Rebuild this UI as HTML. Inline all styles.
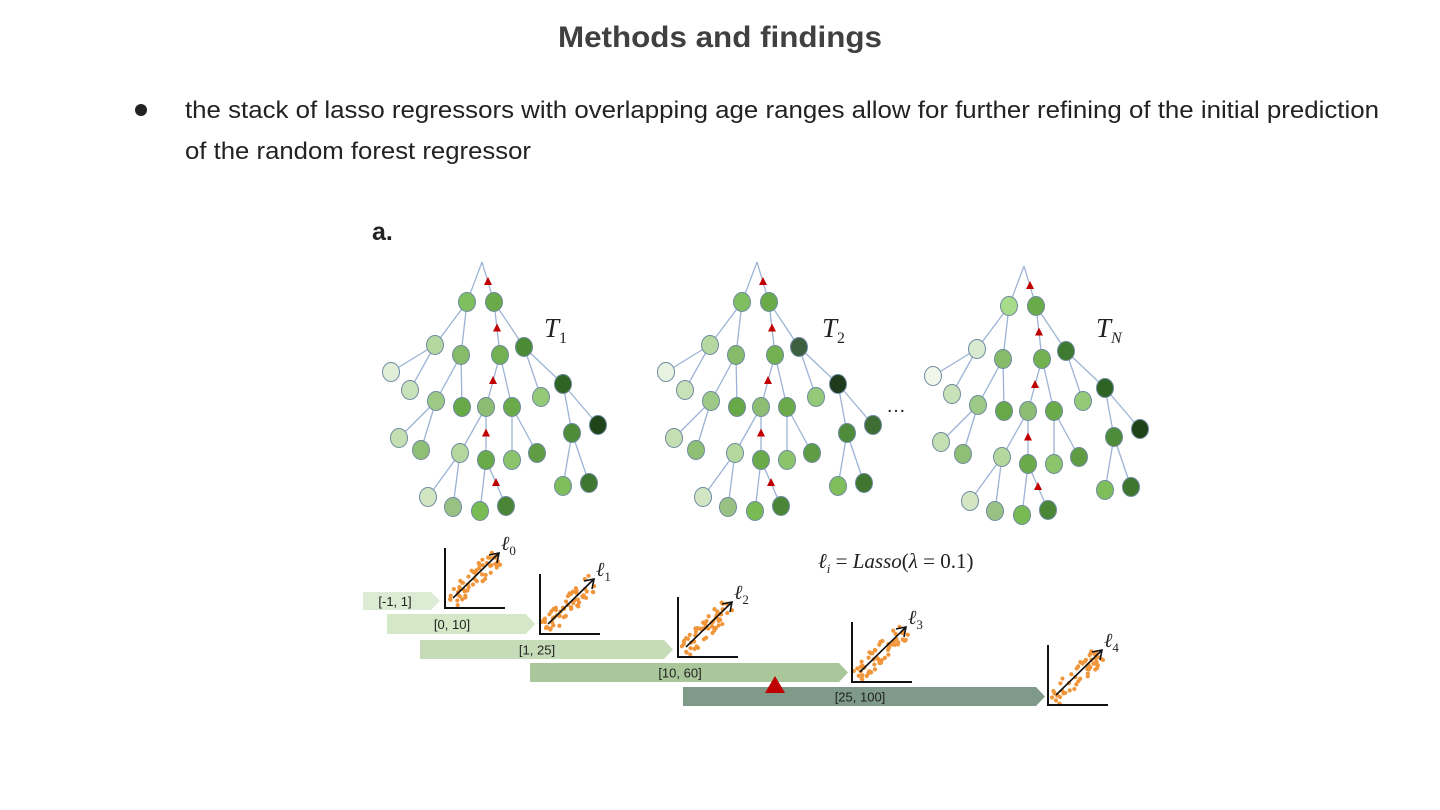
<!DOCTYPE html>
<html><head><meta charset="utf-8"><style>
html,body{margin:0;padding:0;background:#fff;width:1440px;height:810px;overflow:hidden}
svg{display:block}
.t{font-family:"Liberation Sans",sans-serif;fill:#222}
.s{font-family:"Liberation Serif",serif;font-style:italic;fill:#222}
</style></head><body>
<svg id="sv" width="1440" height="810" viewBox="0 0 1440 810" xmlns="http://www.w3.org/2000/svg">
<text class="t" x="720" y="47" text-anchor="middle" font-size="30" font-weight="bold" style="fill:#404040" textLength="324" lengthAdjust="spacingAndGlyphs">Methods and findings</text>
<circle cx="141" cy="110" r="6" fill="#222"/>
<text class="t" x="185" y="118" font-size="24" textLength="1194" lengthAdjust="spacingAndGlyphs">the stack of lasso regressors with overlapping age ranges allow for further refining of the initial prediction</text>
<text class="t" x="185" y="159" font-size="24" textLength="346" lengthAdjust="spacingAndGlyphs">of the random forest regressor</text>
<text class="t" x="372" y="240" font-size="25" font-weight="bold">a.</text>
<g id="trees"></g>
<text class="s" x="544" y="337" font-size="27">T<tspan font-size="16" dy="6" font-style="normal">1</tspan></text>
<text class="s" x="822" y="337" font-size="27">T<tspan font-size="16" dy="6" font-style="normal">2</tspan></text>
<text class="s" x="1096" y="337" font-size="27">T<tspan font-size="16" dy="6">N</tspan></text>
<text class="t" x="896" y="412" font-size="20" text-anchor="middle">…</text>
<text class="s" x="818" y="568" font-size="21">ℓ<tspan font-size="13" dy="5">i</tspan><tspan dy="-5" font-style="normal"> = </tspan>Lasso<tspan font-style="normal">(</tspan>λ<tspan font-style="normal"> = 0.1)</tspan></text>
<g id="bars"></g>
<g id="plots"></g>
<polygon points="775,676 765,693 785,693" fill="#c00000"/>
</svg>
<script>
var NS="http://www.w3.org/2000/svg";
function el(p,n,a){var e=document.createElementNS(NS,n);for(var k in a)e.setAttribute(k,a[k]);p.appendChild(e);return e;}
var T=document.getElementById('trees');
var nodes={R:[482,262],A:[467,302],B:[494,302],C:[435,345],D:[461,355],E:[391,372],F:[410,390],G:[436,401],H:[462,407],I:[399,438],J:[421,450],K:[500,355],L:[524,347],M:[486,407],N:[512,407],O:[460,453],P:[486,460],Q:[428,497],S:[453,507],U:[480,511],V:[506,506],W:[512,460],X:[537,453],Y:[541,397],Z:[563,384],AA:[572,433],AB:[598,425],AC:[563,486],AD:[589,483]};
var edges=[["R","A"],["R","B"],["A","C"],["A","D"],["C","E"],["C","F"],["D","G"],["D","H"],["G","I"],["G","J"],["B","K"],["B","L"],["K","M"],["K","N"],["M","O"],["M","P"],["O","Q"],["O","S"],["P","U"],["P","V"],["N","W"],["N","X"],["L","Y"],["L","Z"],["Z","AA"],["Z","AB"],["AA","AC"],["AA","AD"]];
var cols={A:"#7fbf5f",B:"#6aaa48",C:"#b5d7a0",D:"#86bb6a",E:"#e2efd8",F:"#c9e1b9",G:"#9cc986",H:"#67a847",I:"#c4dfb2",J:"#8fbf74",K:"#72b050",L:"#4d8a35",M:"#8dbd72",N:"#6aaa48",O:"#b3d79c",P:"#6aaa48",Q:"#d2e6c4",S:"#99c184",U:"#78bb52",V:"#4b8636",W:"#8cc46c",X:"#5f9c44",Y:"#93c977",Z:"#2f6324",AA:"#4f8c3a",AB:"#1e4418",AC:"#7fbe5b",AD:"#3f7630"};
var path=["R","B","K","M","P","V"];
function tree(dx,dy,var2){
  var g=el(T,'g',{transform:'translate('+dx+','+dy+')'});
  edges.forEach(function(e){var a=nodes[e[0]],b=nodes[e[1]];el(g,'line',{x1:a[0],y1:a[1],x2:b[0],y2:b[1],stroke:'#9db3d6','stroke-width':1.3});});
  for(var k in nodes){if(k=='R')continue;var n=nodes[k];var c=cols[k];
    if(var2&&var2[k])c=var2[k];
    el(g,'ellipse',{cx:n[0],cy:n[1],rx:8.5,ry:9.5,fill:c,stroke:'#6f8aa0','stroke-width':1});}
  for(var i=0;i<path.length-1;i++){var a=nodes[path[i]],b=nodes[path[i+1]];var mx=(a[0]+b[0])/2,my=(a[1]+b[1])/2;
    el(g,'polygon',{points:(mx)+','+(my-5)+' '+(mx-4)+','+(my+3)+' '+(mx+4)+','+(my+3),fill:'#c00000'});}
}
tree(0,0);
tree(275,0,{L:"#3c5f40",Z:"#1e3a1a",AB:"#3e6e34",E:"#e8f2e0"});
tree(542,4,{A:"#a8dc8a",C:"#d8ead0",E:"#f0f6ea",L:"#3f7a32"});
var B=document.getElementById('bars');
var bars=[[363,592,440,18,"#dcebd3","[-1, 1]",395],[387,614,535,20,"#d4e8c8","[0, 10]",452],[420,640,673,19,"#c6dcb8","[1, 25]",537],[530,663,848,19,"#a9c79a","[10, 60]",680],[683,687,1045,19,"#7f9a88","[25, 100]",860]];
bars.forEach(function(b){var x=b[0],y=b[1],x2=b[2],h=b[3];
 el(B,'polygon',{points:x+','+y+' '+(x2-9)+','+y+' '+x2+','+(y+h/2)+' '+(x2-9)+','+(y+h)+' '+x+','+(y+h),fill:b[4]});
 var t=el(B,'text',{x:b[6],y:y+h/2+5,'font-size':13,'text-anchor':'middle','class':'t'});t.textContent=b[5];});
var P=document.getElementById('plots');
var plots=[[445,608,"0"],[540,634,"1"],[678,657,"2"],[852,682,"3"],[1048,705,"4"]];
var seed=3;function rnd(){seed=(seed*9301+49297)%233280;return seed/233280;}
plots.forEach(function(p){var x=p[0],y=p[1];
 for(var i=0;i<55;i++){var t=rnd();var d=(rnd()-0.5)*20;var px=x+5+t*48+d*0.5,py=y-6-t*46+d*0.7;el(P,'circle',{cx:px,cy:py,r:2.1,fill:'#f0953a'});}
 el(P,'polyline',{points:x+','+(y-60)+' '+x+','+y+' '+(x+60)+','+y,fill:'none',stroke:'#111','stroke-width':2});
 el(P,'line',{x1:x+8,y1:y-10,x2:x+53,y2:y-54,stroke:'#111','stroke-width':1.6});
 el(P,'polyline',{points:(x+44)+','+(y-53)+' '+(x+54)+','+(y-55)+' '+(x+52)+','+(y-45),fill:'none',stroke:'#111','stroke-width':1.6});
 var t=el(P,'text',{x:x+56,y:y-58,'font-size':20,'class':'s'});t.textContent='ℓ';
 var s=el(P,'tspan',{'font-size':13,dy:5,'font-style':'normal'});s.textContent=p[2];t.appendChild(s);
});
</script>
</body></html>
